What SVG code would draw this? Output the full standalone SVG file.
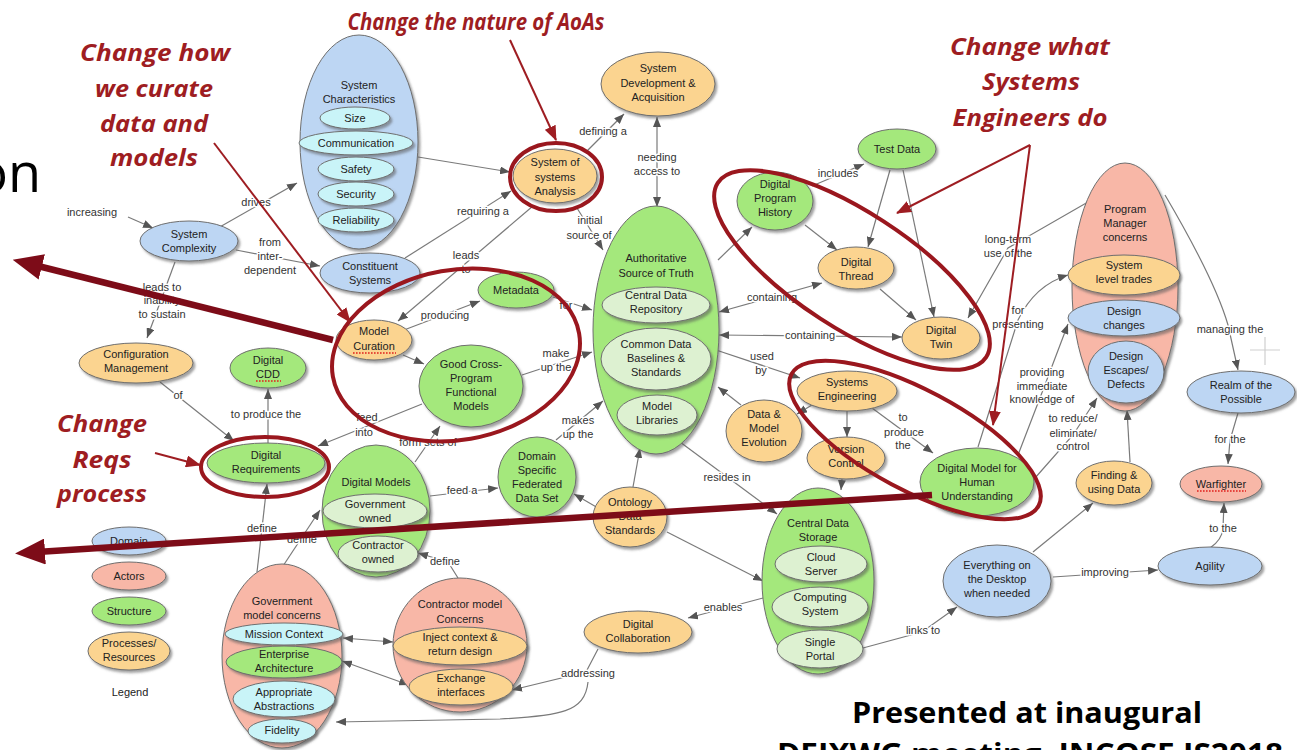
<svg xmlns="http://www.w3.org/2000/svg" width="1297" height="750" viewBox="0 0 1297 750">
<defs>
<filter id="sh" x="-20%" y="-20%" width="140%" height="140%">
<feDropShadow dx="2" dy="2.5" stdDeviation="1.2" flood-color="#555" flood-opacity="0.55"/>
</filter>
<marker id="ah" viewBox="0 0 10 8" refX="10" refY="4" markerWidth="10" markerHeight="8" markerUnits="userSpaceOnUse" orient="auto-start-reverse">
<path d="M0,0 L10,4 L0,8 z" fill="#555"/>
</marker>
<marker id="rah" viewBox="0 0 15 12" refX="14" refY="6" markerWidth="15" markerHeight="12" markerUnits="userSpaceOnUse" orient="auto">
<path d="M0,0 L15,6 L0,12 z" fill="#9e1d22"/>
</marker>
<marker id="bah" viewBox="0 0 30 26" refX="8" refY="13" markerWidth="30" markerHeight="26" markerUnits="userSpaceOnUse" orient="auto">
<path d="M0,0 L30,13 L0,26 z" fill="#7d0c18"/>
</marker>
<style>
.n{stroke:#6e6e6e;stroke-width:1;filter:url(#sh)}
.b{fill:#bdd6f3}.g{fill:#a4e87b}.o{fill:#fbd490}.s{fill:#f8b7a7}.c{fill:#c9f4f8}.p{fill:#ddf1d1}
.t{font-family:"Liberation Sans",Arial,sans-serif;font-size:11px;fill:#222;text-anchor:middle}
.l{font-family:"Liberation Sans",Arial,sans-serif;font-size:11px;fill:#333;text-anchor:middle;stroke:#fff;stroke-width:3;paint-order:stroke;stroke-linejoin:round}
.e{fill:none;stroke:#7a7a7a;stroke-width:1.2}
.sp{stroke:#e0201c;stroke-width:1.6;stroke-dasharray:1.6 1.4;fill:none}
.ann{font-family:"Open Sans","Liberation Sans",sans-serif;font-weight:700;font-style:italic;font-size:23px;fill:#9e1d22;text-anchor:middle}
.hl{fill:none;stroke:#9a171e;stroke-width:4}
.ra{fill:none;stroke:#9e1d22;stroke-width:2}
.big{fill:none;stroke:#7d0c18;stroke-width:6.5}
.slide{font-family:"Open Sans","Liberation Sans",sans-serif;fill:#000}
</style>
</defs>
<rect width="1297" height="750" fill="#fff"/>

<!-- slide text -->
<text class="slide" x="41" y="192" font-size="54" text-anchor="end">on</text>
<text class="slide" x="852" y="723" font-size="29" font-weight="700" textLength="350" lengthAdjust="spacingAndGlyphs">Presented at inaugural</text>
<text class="slide" x="777" y="764" font-size="29" font-weight="700" textLength="506" lengthAdjust="spacingAndGlyphs">DEIXWG meeting, INCOSE IS2018</text>

<!-- links between concepts -->
<g id="connectors">
<path class="e" d="M128,217 L153,228" marker-end="url(#ah)"/>
<path class="e" d="M218,228 L297,183" marker-end="url(#ah)"/>
<path class="e" d="M236,250 L320,266" marker-end="url(#ah)"/>
<path class="e" d="M175,262 L147,338" marker-end="url(#ah)"/>
<path class="e" d="M418,157 L510,172" marker-end="url(#ah)"/>
<path class="e" d="M405,258 L511,191" marker-end="url(#ah)"/>
<path class="e" d="M533,206 L398,321" marker-end="url(#ah)"/>
<path class="e" d="M586,152 L624,114" marker-end="url(#ah)"/>
<path class="e" d="M657,117 L657,207" marker-start="url(#ah)" marker-end="url(#ah)"/>
<path class="e" d="M577,208 L603,250" marker-end="url(#ah)"/>
<path class="e" d="M553,297 L592,310" marker-end="url(#ah)"/>
<path class="e" d="M404,330 L480,301" marker-end="url(#ah)"/>
<path class="e" d="M403,355 L424,364" marker-end="url(#ah)"/>
<path class="e" d="M522,375 L592,352" marker-end="url(#ah)"/>
<path class="e" d="M422,404 L318,446" marker-end="url(#ah)"/>
<path class="e" d="M415,462 L440,426" marker-end="url(#ah)"/>
<path class="e" d="M430,496 L498,488" marker-end="url(#ah)"/>
<path class="e" d="M598,508 L574,494" marker-end="url(#ah)"/>
<path class="e" d="M556,440 L603,401" marker-end="url(#ah)"/>
<path class="e" d="M633,487 L640,448" marker-end="url(#ah)"/>
<path class="e" d="M680,442 L777,514" marker-end="url(#ah)"/>
<path class="e" d="M667,532 L763,581" marker-end="url(#ah)"/>
<path class="e" d="M763,598 L688,618" marker-end="url(#ah)"/>
<path class="e" d="M598,649 L586,672 L512,690" marker-end="url(#ah)"/>
<path class="e" d="M588,682 C585,712 560,716 500,719 L336,722" marker-end="url(#ah)"/>
<path class="e" d="M343,638 L393,642" marker-start="url(#ah)" marker-end="url(#ah)"/>
<path class="e" d="M342,661 L409,685" marker-start="url(#ah)" marker-end="url(#ah)"/>
<path class="e" d="M458,578 L448,562 L418,553" marker-end="url(#ah)"/>
<path class="e" d="M257,572 L267,484" marker-end="url(#ah)"/>
<path class="e" d="M283,566 L320,510" marker-end="url(#ah)"/>
<path class="e" d="M160,382 L234,441" marker-end="url(#ah)"/>
<path class="e" d="M268,443 L268,389" marker-end="url(#ah)"/>
<path class="e" d="M812,186 L864,164" marker-end="url(#ah)"/>
<path class="e" d="M718,260 L752,227" marker-end="url(#ah)"/>
<path class="e" d="M805,225 L837,250" marker-end="url(#ah)"/>
<path class="e" d="M890,170 L868,247" marker-end="url(#ah)"/>
<path class="e" d="M903,170 L934,317" marker-end="url(#ah)"/>
<path class="e" d="M880,289 L916,320" marker-end="url(#ah)"/>
<path class="e" d="M719,312 L822,283" marker-start="url(#ah)" marker-end="url(#ah)"/>
<path class="e" d="M719,335 L902,337" marker-start="url(#ah)" marker-end="url(#ah)"/>
<path class="e" d="M716,350 L800,378" marker-end="url(#ah)"/>
<path class="e" d="M812,405 L797,414" marker-end="url(#ah)"/>
<path class="e" d="M741,405 L718,387" marker-end="url(#ah)"/>
<path class="e" d="M847,411 L847,437" marker-end="url(#ah)"/>
<path class="e" d="M872,408 L933,453" marker-end="url(#ah)"/>
<path class="e" d="M842,479 L841,490" marker-end="url(#ah)"/>
<path class="e" d="M1088,202 L1008,248 L968,318" marker-end="url(#ah)"/>
<path class="e" d="M978,447 L1018,320 Q1035,285 1068,275" marker-end="url(#ah)"/>
<path class="e" d="M1018,455 L1043,390 L1068,324" marker-end="url(#ah)"/>
<path class="e" d="M1035,478 L1073,435 L1097,398" marker-end="url(#ah)"/>
<path class="e" d="M1130,462 L1127,410" marker-end="url(#ah)"/>
<path class="e" d="M1165,195 Q1215,280 1228,325 L1238,370" marker-end="url(#ah)"/>
<path class="e" d="M1238,413 L1230,440 L1228,464" marker-end="url(#ah)"/>
<path class="e" d="M1210,548 Q1222,540 1223,528 L1224,503" marker-end="url(#ah)"/>
<path class="e" d="M1053,577 L1158,570" marker-end="url(#ah)"/>
<path class="e" d="M1033,552 L1093,503" marker-end="url(#ah)"/>
<path class="e" d="M863,648 L922,632 L957,607" marker-end="url(#ah)"/>

<text class="l" x="92" y="216">increasing</text>
<text class="l" x="256" y="206">drives</text>
<text class="l" x="270" y="246">from</text>
<text class="l" x="270" y="260">inter-</text>
<text class="l" x="270" y="274">dependent</text>
<text class="l" x="162" y="291">leads to</text>
<text class="l" x="162" y="304">inability</text>
<text class="l" x="162" y="318">to sustain</text>
<text class="l" x="483" y="215">requiring a</text>
<text class="l" x="466" y="259">leads</text>
<text class="l" x="466" y="273">to</text>
<text class="l" x="603" y="135">defining a</text>
<text class="l" x="657" y="161">needing</text>
<text class="l" x="657" y="175">access to</text>
<text class="l" x="590" y="224">initial</text>
<text class="l" x="589" y="239">source of</text>
<text class="l" x="566" y="309">for</text>
<text class="l" x="445" y="319">producing</text>
<text class="l" x="556" y="357">make</text>
<text class="l" x="556" y="371">up the</text>
<text class="l" x="367" y="421">feed</text>
<text class="l" x="364" y="436">into</text>
<text class="l" x="428" y="446">form sets of</text>
<text class="l" x="462" y="494">feed a</text>
<text class="l" x="578" y="424">makes</text>
<text class="l" x="578" y="438">up the</text>
<text class="l" x="727" y="481">resides in</text>
<text class="l" x="723" y="611">enables</text>
<text class="l" x="588" y="677">addressing</text>
<text class="l" x="445" y="565">define</text>
<text class="l" x="262" y="532">define</text>
<text class="l" x="302" y="543">define</text>
<text class="l" x="178" y="399">of</text>
<text class="l" x="266" y="418">to produce the</text>
<text class="l" x="838" y="177">includes</text>
<text class="l" x="772" y="301">containing</text>
<text class="l" x="810" y="339">containing</text>
<text class="l" x="762" y="360">used</text>
<text class="l" x="761" y="374">by</text>
<text class="l" x="903" y="421">to</text>
<text class="l" x="904" y="436">produce</text>
<text class="l" x="903" y="449">the</text>
<text class="l" x="1008" y="243">long-term</text>
<text class="l" x="1008" y="257">use of the</text>
<text class="l" x="1018" y="314">for</text>
<text class="l" x="1018" y="328">presenting</text>
<text class="l" x="1042" y="376">providing</text>
<text class="l" x="1042" y="390">immediate</text>
<text class="l" x="1042" y="403">knowledge of</text>
<text class="l" x="1073" y="422">to reduce/</text>
<text class="l" x="1073" y="437">eliminate/</text>
<text class="l" x="1073" y="450">control</text>
<text class="l" x="1230" y="333">managing the</text>
<text class="l" x="1230" y="443">for the</text>
<text class="l" x="1223" y="532">to the</text>
<text class="l" x="1105" y="576">improving</text>
<text class="l" x="923" y="634">links to</text>
</g>

<!-- faint cursor mark -->
<path d="M1250,350 L1280,350 M1265,337 L1265,365" stroke="#cfcfcf" stroke-width="1.2" fill="none"/>

<!-- concepts -->
<g id="system-characteristics">
<ellipse class="n b" cx="359" cy="142" rx="59" ry="107"/>
<text class="t" x="359" y="89">System<tspan x="359" dy="14">Characteristics</tspan></text>
<ellipse class="n c" cx="355" cy="118" rx="35" ry="11"/><text class="t" x="355" y="122">Size</text>
<ellipse class="n c" cx="356" cy="143" rx="57" ry="12"/><text class="t" x="356" y="147">Communication</text>
<ellipse class="n c" cx="356" cy="169" rx="38" ry="12"/><text class="t" x="356" y="173">Safety</text>
<ellipse class="n c" cx="356" cy="194" rx="38" ry="12"/><text class="t" x="356" y="198">Security</text>
<ellipse class="n c" cx="356" cy="220" rx="38" ry="12"/><text class="t" x="356" y="224">Reliability</text>
</g>
<g id="system-complexity"><ellipse class="n b" cx="189" cy="241" rx="49" ry="20"/><text class="t" x="189" y="238">System<tspan x="189" dy="14">Complexity</tspan></text></g>
<g id="constituent-systems"><ellipse class="n b" cx="370" cy="273" rx="50" ry="20"/><text class="t" x="370" y="270">Constituent<tspan x="370" dy="14">Systems</tspan></text></g>
<g id="sos-analysis"><ellipse class="n o" cx="555" cy="176" rx="42" ry="27"/><text class="t" x="555" y="166">System of<tspan x="555" dy="15">systems</tspan><tspan x="555" dy="14">Analysis</tspan></text></g>
<g id="system-development"><ellipse class="n o" cx="658" cy="84" rx="57" ry="32"/><text class="t" x="658" y="72">System<tspan x="658" dy="15">Development &amp;</tspan><tspan x="658" dy="14">Acquisition</tspan></text></g>
<g id="authoritative-source">
<ellipse class="n g" cx="656" cy="330" rx="63" ry="124"/>
<text class="t" x="656" y="262">Authoritative<tspan x="656" dy="15">Source of Truth</tspan></text>
<ellipse class="n p" cx="656" cy="305" rx="54" ry="18"/><text class="t" x="656" y="299">Central Data<tspan x="656" dy="14">Repository</tspan></text>
<ellipse class="n p" cx="656" cy="359" rx="55" ry="31"/><text class="t" x="656" y="348">Common Data<tspan x="656" dy="14">Baselines &amp;</tspan><tspan x="656" dy="14">Standards</tspan></text>
<ellipse class="n p" cx="657" cy="415" rx="40" ry="20"/><text class="t" x="657" y="410">Model<tspan x="657" dy="14">Libraries</tspan></text>
</g>
<g id="metadata"><ellipse class="n g" cx="516" cy="290" rx="38" ry="18"/><text class="t" x="516" y="294">Metadata</text></g>
<g id="model-curation"><ellipse class="n o" cx="374" cy="340" rx="38" ry="20"/><text class="t" x="374" y="335">Model<tspan x="374" dy="15">Curation</tspan></text><path class="sp" d="M353,353 L396,353"/></g>
<g id="good-cross-program"><ellipse class="n g" cx="471" cy="386" rx="52" ry="41"/><text class="t" x="471" y="368">Good Cross-<tspan x="471" dy="14">Program</tspan><tspan x="471" dy="14">Functional</tspan><tspan x="471" dy="14">Models</tspan></text></g>
<g id="digital-models">
<ellipse class="n g" cx="376" cy="511" rx="54" ry="66"/>
<text class="t" x="376" y="486">Digital Models</text>
<ellipse class="n p" cx="375" cy="511" rx="52" ry="17"/><text class="t" x="375" y="508">Government<tspan x="375" dy="14">owned</tspan></text>
<ellipse class="n p" cx="378" cy="554" rx="40" ry="18"/><text class="t" x="378" y="549">Contractor<tspan x="378" dy="14">owned</tspan></text>
</g>
<g id="domain-specific"><ellipse class="n g" cx="537" cy="477" rx="39" ry="40"/><text class="t" x="537" y="460">Domain<tspan x="537" dy="14">Specific</tspan><tspan x="537" dy="14">Federated</tspan><tspan x="537" dy="14">Data Set</tspan></text></g>
<g id="ontology"><ellipse class="n o" cx="630" cy="517" rx="37" ry="30"/><text class="t" x="630" y="506">Ontology<tspan x="630" dy="14">Data</tspan><tspan x="630" dy="14">Standards</tspan></text></g>
<g id="data-model-evolution"><ellipse class="n o" cx="764" cy="431" rx="38" ry="31"/><text class="t" x="764" y="418">Data &amp;<tspan x="764" dy="14">Model</tspan><tspan x="764" dy="14">Evolution</tspan></text></g>
<g id="systems-engineering"><ellipse class="n o" cx="847" cy="391" rx="50" ry="20"/><text class="t" x="847" y="386">Systems<tspan x="847" dy="14">Engineering</tspan></text></g>
<g id="version-control"><ellipse class="n o" cx="846" cy="458" rx="39" ry="21"/><text class="t" x="846" y="453">Version<tspan x="846" dy="14">Control</tspan></text></g>
<g id="digital-model-human"><ellipse class="n g" cx="977" cy="482" rx="57" ry="34"/><text class="t" x="977" y="472">Digital Model for<tspan x="977" dy="14">Human</tspan><tspan x="977" dy="14">Understanding</tspan></text></g>
<g id="digital-program-history"><ellipse class="n g" cx="775" cy="201" rx="38" ry="29"/><text class="t" x="775" y="188">Digital<tspan x="775" dy="14">Program</tspan><tspan x="775" dy="14">History</tspan></text></g>
<g id="test-data"><ellipse class="n g" cx="897" cy="149" rx="39" ry="20"/><text class="t" x="897" y="153">Test Data</text></g>
<g id="digital-thread"><ellipse class="n o" cx="856" cy="268" rx="38" ry="21"/><text class="t" x="856" y="266">Digital<tspan x="856" dy="14">Thread</tspan></text></g>
<g id="digital-twin"><ellipse class="n o" cx="941" cy="338" rx="39" ry="21"/><text class="t" x="941" y="334">Digital<tspan x="941" dy="14">Twin</tspan></text></g>
<g id="program-manager-concerns">
<ellipse class="n s" cx="1125" cy="287" rx="53" ry="124"/>
<text class="t" x="1125" y="213">Program<tspan x="1125" dy="14">Manager</tspan><tspan x="1125" dy="14">concerns</tspan></text>
<ellipse class="n o" cx="1124" cy="275" rx="56" ry="20"/><text class="t" x="1124" y="269">System<tspan x="1124" dy="14">level trades</tspan></text>
<ellipse class="n b" cx="1124" cy="318" rx="56" ry="18"/><text class="t" x="1124" y="315">Design<tspan x="1124" dy="14">changes</tspan></text>
<ellipse class="n b" cx="1126" cy="372" rx="38" ry="31"/><text class="t" x="1126" y="360">Design<tspan x="1126" dy="14">Escapes/</tspan><tspan x="1126" dy="14">Defects</tspan></text>
</g>
<g id="realm-of-possible"><ellipse class="n b" cx="1241" cy="392" rx="54" ry="21"/><text class="t" x="1241" y="389">Realm of the<tspan x="1241" dy="14">Possible</tspan></text></g>
<g id="warfighter"><ellipse class="n s" cx="1221" cy="484" rx="41" ry="18"/><text class="t" x="1221" y="488">Warfighter</text><path class="sp" d="M1197,491 L1246,491"/></g>
<g id="finding-data"><ellipse class="n o" cx="1114" cy="483" rx="38" ry="22"/><text class="t" x="1114" y="479">Finding &amp;<tspan x="1114" dy="14">using Data</tspan></text></g>
<g id="everything-desktop"><ellipse class="n b" cx="997" cy="581" rx="54" ry="36"/><text class="t" x="997" y="569">Everything on<tspan x="997" dy="14">the Desktop</tspan><tspan x="997" dy="14">when needed</tspan></text></g>
<g id="agility"><ellipse class="n b" cx="1210" cy="566" rx="52" ry="19"/><text class="t" x="1210" y="570">Agility</text></g>
<g id="central-data-storage">
<ellipse class="n g" cx="818" cy="581" rx="56" ry="93"/>
<text class="t" x="818" y="527">Central Data<tspan x="818" dy="14">Storage</tspan></text>
<ellipse class="n p" cx="821" cy="564" rx="46" ry="18"/><text class="t" x="821" y="561">Cloud<tspan x="821" dy="14">Server</tspan></text>
<ellipse class="n p" cx="820" cy="607" rx="48" ry="20"/><text class="t" x="820" y="601">Computing<tspan x="820" dy="14">System</tspan></text>
<ellipse class="n p" cx="820" cy="649" rx="43" ry="19"/><text class="t" x="820" y="646">Single<tspan x="820" dy="14">Portal</tspan></text>
</g>
<g id="digital-collaboration"><ellipse class="n o" cx="638" cy="632" rx="54" ry="21"/><text class="t" x="638" y="628">Digital<tspan x="638" dy="14">Collaboration</tspan></text></g>
<g id="contractor-model-concerns">
<ellipse class="n s" cx="460" cy="645" rx="67" ry="67"/>
<text class="t" x="460" y="608">Contractor model<tspan x="460" dy="15">Concerns</tspan></text>
<ellipse class="n o" cx="460" cy="646" rx="67" ry="19"/><text class="t" x="460" y="641">Inject context &amp;<tspan x="460" dy="14">return design</tspan></text>
<ellipse class="n o" cx="461" cy="687" rx="52" ry="18"/><text class="t" x="461" y="682">Exchange<tspan x="461" dy="14">interfaces</tspan></text>
</g>
<g id="government-model-concerns">
<ellipse class="n s" cx="282" cy="656" rx="60" ry="92"/>
<text class="t" x="282" y="605">Government<tspan x="282" dy="14">model concerns</tspan></text>
<ellipse class="n c" cx="284" cy="634" rx="59" ry="11"/><text class="t" x="284" y="638">Mission Context</text>
<ellipse class="n g" cx="284" cy="662" rx="58" ry="16"/><text class="t" x="284" y="658">Enterprise<tspan x="284" dy="14">Architecture</tspan></text>
<ellipse class="n c" cx="284" cy="699" rx="51" ry="18"/><text class="t" x="284" y="696">Appropriate<tspan x="284" dy="14">Abstractions</tspan></text>
<ellipse class="n c" cx="282" cy="731" rx="34" ry="12"/><text class="t" x="282" y="734">Fidelity</text>
</g>
<g id="digital-requirements"><ellipse class="n g" cx="266" cy="463" rx="59" ry="20"/><text class="t" x="266" y="459">Digital<tspan x="266" dy="14">Requirements</tspan></text></g>
<g id="digital-cdd"><ellipse class="n g" cx="268" cy="368" rx="38" ry="20"/><text class="t" x="268" y="364">Digital<tspan x="268" dy="14">CDD</tspan></text><path class="sp" d="M256,381 L281,381"/></g>
<g id="configuration-management"><ellipse class="n o" cx="136" cy="363" rx="57" ry="20"/><text class="t" x="136" y="358">Configuration<tspan x="136" dy="14">Management</tspan></text></g>

<g id="legend">
<ellipse class="n b" cx="129" cy="541" rx="37" ry="14"/><text class="t" x="129" y="545">Domain</text>
<ellipse class="n s" cx="129" cy="576" rx="37" ry="14"/><text class="t" x="129" y="580">Actors</text>
<ellipse class="n g" cx="129" cy="611" rx="37" ry="14"/><text class="t" x="129" y="615">Structure</text>
<ellipse class="n o" cx="129" cy="651" rx="41" ry="19"/><text class="t" x="129" y="647">Processes/<tspan x="129" dy="14">Resources</tspan></text>
<text class="t" x="130" y="696">Legend</text>
</g>

<!-- callouts -->
<g id="callouts">
<ellipse class="hl" cx="556" cy="177" rx="46" ry="34"/>
<ellipse class="hl" cx="456" cy="355" rx="125" ry="85" transform="rotate(-10 456 355)"/>
<ellipse class="hl" cx="852" cy="270" rx="160" ry="58" transform="rotate(33 852 270)"/>
<ellipse class="hl" cx="915" cy="440" rx="140" ry="50" transform="rotate(28 915 440)"/>
<ellipse class="hl" cx="265" cy="467" rx="64" ry="30"/>

<text class="ann" x="476" y="30" textLength="257" lengthAdjust="spacingAndGlyphs">Change the nature of AoAs</text>
<text class="ann" x="155" y="61" textLength="150" lengthAdjust="spacingAndGlyphs">Change how</text>
<text class="ann" x="154" y="97" textLength="118" lengthAdjust="spacingAndGlyphs">we curate</text>
<text class="ann" x="154" y="132" textLength="108" lengthAdjust="spacingAndGlyphs">data and</text>
<text class="ann" x="154" y="166" textLength="88" lengthAdjust="spacingAndGlyphs">models</text>
<text class="ann" x="1030" y="55" textLength="160" lengthAdjust="spacingAndGlyphs">Change what</text>
<text class="ann" x="1031" y="90" textLength="98" lengthAdjust="spacingAndGlyphs">Systems</text>
<text class="ann" x="1030" y="126" textLength="155" lengthAdjust="spacingAndGlyphs">Engineers do</text>
<text class="ann" x="102" y="432" textLength="90" lengthAdjust="spacingAndGlyphs">Change</text>
<text class="ann" x="102" y="468" textLength="59" lengthAdjust="spacingAndGlyphs">Reqs</text>
<text class="ann" x="102" y="502" textLength="90" lengthAdjust="spacingAndGlyphs">process</text>

<path class="ra" d="M510,40 L556,140" marker-end="url(#rah)"/>
<path class="ra" d="M214,143 L350,322" marker-end="url(#rah)"/>
<path class="ra" d="M1030,145 L897,213" marker-end="url(#rah)"/>
<path class="ra" d="M1030,145 L993,425" marker-end="url(#rah)"/>
<path class="ra" d="M155,453 L200,465" marker-end="url(#rah)"/>

<path class="big" d="M333,340 L34,265" marker-end="url(#bah)"/>
<path class="big" d="M932,495 L37,552" marker-end="url(#bah)"/>
</g>
</svg>
